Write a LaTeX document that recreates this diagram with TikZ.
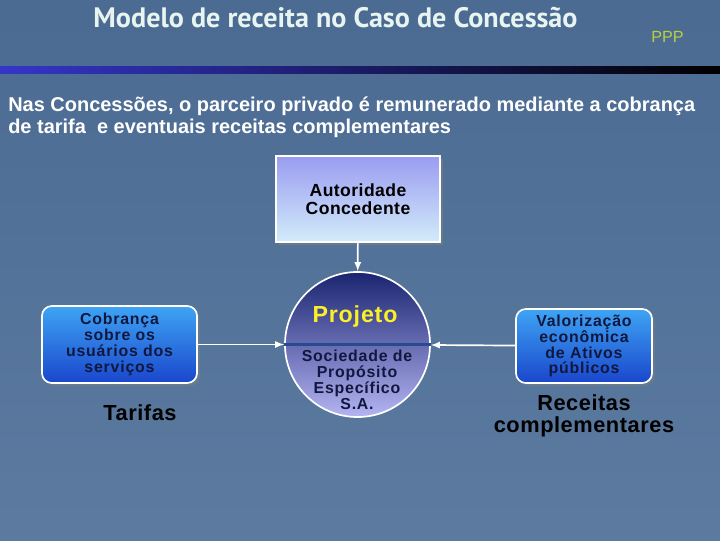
\documentclass[tikz,border=0pt]{standalone}
\usepackage{fontspec}
\setmainfont{Liberation Sans}
\newfontfamily\titlefont{PT Sans}
\newfontfamily\widefont[LetterSpace=5]{Liberation Sans}
\newfontfamily\semiwidefont[LetterSpace=2.5]{Liberation Sans}
\usetikzlibrary{arrows,shadows}
\definecolor{slidebg}{HTML}{4E6F98}
\definecolor{titlefg}{HTML}{E8F4F0}
\definecolor{pppfg}{HTML}{B8D040}
\definecolor{navyfg}{HTML}{101840}
\definecolor{linkblue}{HTML}{2A4A90}
\definecolor{barblue}{HTML}{3436C8}
\definecolor{authtop}{HTML}{9A9CF0}
\definecolor{authbot}{HTML}{D2ECFA}
\definecolor{srctop}{HTML}{3EA4F4}
\definecolor{srcbot}{HTML}{1A46CC}
\definecolor{projtop}{HTML}{1A2470}
\definecolor{projbot}{HTML}{B4B4F2}
\definecolor{projfg}{HTML}{FAF028}
\tikzstyle{block} = [align=center,draw=white,line width=1.2pt,rectangle,text centered,font=\bfseries]
\tikzstyle{authority} = [block,top color=authtop,bottom color=authbot,minimum width=4.1cm,minimum height=2.15cm,drop shadow={shadow xshift=2pt,shadow yshift=-2pt,opacity=0.5}]
\tikzstyle{source} = [block,rounded corners=7pt,top color=srctop,bottom color=srcbot,text=navyfg,font=\widefont\bfseries\fontsize{11.3}{11.3}\selectfont,drop shadow={shadow xshift=2pt,shadow yshift=-2pt,opacity=0.4}]
\tikzstyle{project} = [circle,draw=white,line width=1.2pt,top color=projtop,bottom color=projbot,minimum size=3.625cm]
\tikzstyle{caption} = [align=center,text centered,font=\semiwidefont\bfseries\fontsize{15.5}{15.5}\selectfont]
\tikzstyle{link} = [draw=white,line width=1.2pt,-latex]

\begin{document}
\begin{tikzpicture}[x=0.025cm,y=-0.025cm]
\fill[top color=slidebg!96!black,bottom color=slidebg!92!white] (0,0) rectangle (720,540);
\useasboundingbox (0,0) rectangle (720,540);
\shade[left color=barblue,right color=black] (0,66) rectangle (720,73);

% title and subtitle
\node (title) [text=titlefg,font=\titlefont\bfseries\fontsize{20}{20}\selectfont] at (335.5,18) {Modelo de receita no Caso de Concessão};
\node (ppp) [text=pppfg,font=\fontsize{11.5}{11.5}\selectfont] at (667.5,37) {PPP};
\node (intro) [anchor=north west,text=white,align=left,font=\bfseries\fontsize{14.2}{15.6}\selectfont,inner sep=0pt] at (8,97) {Nas Concessões, o parceiro privado é remunerado mediante a cobrança\\de tarifa\ \ e eventuais receitas complementares};

% diagram
\node (auth) [authority,font=\semiwidefont\bfseries\fontsize{12.5}{12.5}\selectfont] at (358,199) {Autoridade\\Concedente};
\node (proj) [project] at (357.5,344.5) {};
\draw[linkblue,line width=2.2pt] (proj.west) -- (proj.east);
\node (projname) [text=projfg,font=\bfseries\fontsize{16.5}{16.5}\selectfont] at (355,316) {P\kern.6pt r\kern.6pt o\kern.6pt j\kern.6pt e\kern.6pt t\kern.6pt o};
\node (spe) [align=center,font=\widefont\bfseries\fontsize{11.3}{11.3}\selectfont,text=navyfg] at (357,380) {Sociedade de\\Propósito\\Específico\\S.A.};
\node (fees) [source,minimum width=3.875cm,minimum height=1.925cm] at (119.5,344.5) {Cobrança\\sobre os\\usuários dos\\serviços};
\node (assets) [source,minimum width=3.4cm,minimum height=1.85cm] at (584,346) {Valorização\\econômica\\de Ativos\\públicos};
\node (tarifas) [caption] at (140,413) {Tarifas};
\node (extra) [caption] at (584,416) {Receitas\\complementares};

\draw [link] (auth) -- (proj);
\draw [link] (fees) -- (proj);
\draw [link] (assets) -- (proj);
\end{tikzpicture}
\end{document}
